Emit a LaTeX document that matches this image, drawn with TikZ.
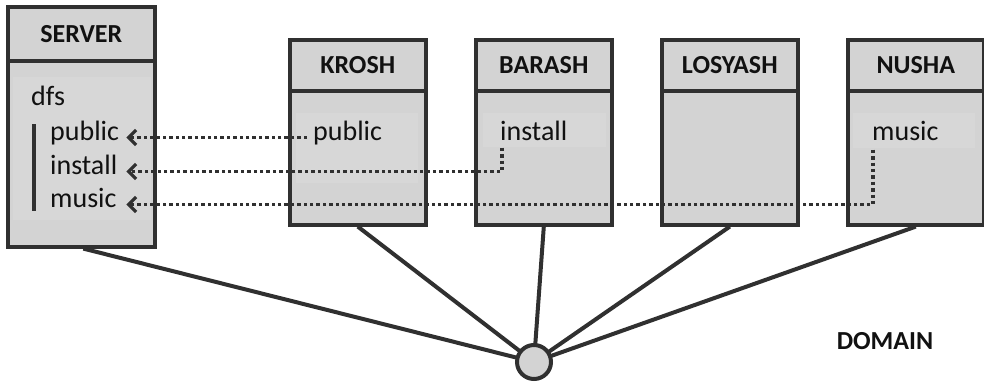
\documentclass[tikz,border=0pt]{standalone}
\usepackage{fontspec}
\setmainfont{Carlito}
\usetikzlibrary{arrows.meta,backgrounds}

\definecolor{boxfill}{HTML}{D3D3D3}
\definecolor{innerfill}{HTML}{D7D7D7}
\definecolor{ink}{HTML}{303030}
\definecolor{txt}{HTML}{111111}

\tikzset{
  hostbox/.style={draw=ink, fill=boxfill, line width=3.6pt, rectangle, inner sep=0pt},
  hosthead/.style={draw=ink, fill=boxfill, line width=3.6pt, rectangle, inner sep=0pt,
    text=txt, font=\fontsize{26}{30}\selectfont\bfseries},
  item/.style={inner sep=0pt, text=txt, text height=0.75em, text depth=0.25em,
    font=\fontsize{28}{34}\selectfont},
  srvitem/.style={item, text width=76pt, align=left},
  link/.style={draw=ink, line width=3.4pt, dash pattern=on 3.4pt off 3pt,
    -{Straight Barb[length=7.5pt,width=15pt,line width=3.2pt]}},
  wire/.style={draw=ink, line width=4pt},
  bar/.style={draw=ink, line width=4pt},
}

\begin{document}
\begin{tikzpicture}[x=1pt,y=1pt]
\useasboundingbox (0,0) rectangle (984,-385);

% server box
\node[hostbox, minimum width=147pt, minimum height=239.5pt, anchor=north west] (server) at (6,-5.5) {};
\fill[innerfill] (13,-77) rectangle (151,-220);
\node[hosthead, minimum width=147pt, minimum height=54pt, anchor=north west] (serverhead) at (6,-5.5) {SERVER};

% workstation boxes
\foreach \x/\name/\label in {288/krosh/KROSH, 474/barash/BARASH, 660/losyash/LOSYASH, 846/nusha/NUSHA}{
  \node[hostbox, minimum width=136pt, minimum height=185pt, anchor=north west] (\name) at (\x,-38) {};
  \node[hosthead, minimum width=136pt, minimum height=51pt, anchor=north west] (\name head) at (\x,-38) {\label};
}
\fill[innerfill] (296,-113) rectangle (418,-183);
\fill[innerfill] (483,-113) rectangle (606,-147);
\fill[innerfill] (853,-113) rectangle (975,-148);

% shared folder tree on the server
\node[item, anchor=base west] (dfs) at (31,-106) {dfs};
\draw[bar] (34,-124) -- (34,-211);
\node[srvitem, anchor=base west] (spublic) at (50,-140) {public};
\node[srvitem, anchor=base west] (sinstall) at (50,-174) {install};
\node[srvitem, anchor=base west] (smusic) at (50,-207) {music};

% folders on the workstations
\node[item, anchor=base west] (kpublic) at (313,-140) {public};
\node[item, anchor=base west] (binstall) at (500,-140) {install};
\node[item, anchor=base west] (nmusic) at (872,-140) {music};

% hub
\node[circle, draw=ink, fill=boxfill, line width=4pt, minimum size=34pt, inner sep=0pt] (hub) at (534,-362) {};

% network wires behind the boxes and hub
\begin{scope}[on background layer]
  \draw[wire] ([xshift=2pt]server.south) -- (hub.center);
  \foreach \name in {krosh, barash, losyash, nusha}{
    \draw[wire] (\name.south) -- (hub.center);
  }
\end{scope}

% folder redirection links
\draw[link] ([xshift=-6pt]kpublic.west) -- (spublic.east);
\draw[link] ([xshift=2pt,yshift=-5pt]binstall.south west) |- (sinstall.east);
\draw[link] ([xshift=1pt,yshift=-7pt]nmusic.south west) |- (smusic.east);

\node[font=\fontsize{26}{30}\selectfont\bfseries, text=txt, inner sep=0pt] (domain) at (885,-341) {DOMAIN};
\end{tikzpicture}
\end{document}
